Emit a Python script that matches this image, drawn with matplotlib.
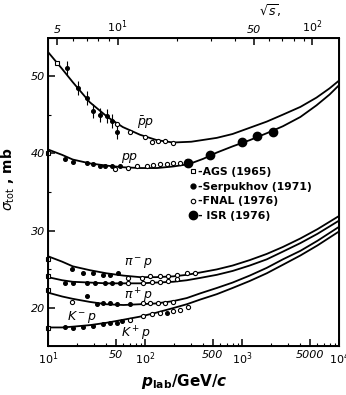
import numpy as np
import matplotlib.pyplot as plt
from matplotlib.lines import Line2D
from matplotlib.ticker import FixedLocator, FixedFormatter, NullFormatter

plt.rcParams['font.family'] = ['DejaVu Sans']
plt.rcParams['mathtext.fontset'] = 'dejavusans'

# fitted curves (p_lab in GeV/c, sigma in mb)
p_curve = [10, 14, 18, 27, 40, 60, 89, 130, 195, 270, 370, 550, 800, 1200, 1800, 2640, 4000, 6000, 10000]
pimp_s = [26.7, 26.0, 25.4, 24.9, 24.5, 24.2, 24.0, 24.0, 24.1, 24.3, 24.6, 25.0, 25.5, 26.2, 27.0, 27.9, 29.0, 30.2, 31.9]
pipp_s = [24.0, 23.6, 23.4, 23.3, 23.2, 23.2, 23.2, 23.3, 23.4, 23.6, 23.9, 24.3, 24.8, 25.5, 26.3, 27.3, 28.4, 29.6, 31.3]
kmp_s = [22.0, 21.5, 21.2, 20.8, 20.5, 20.4, 20.5, 20.6, 20.9, 21.3, 21.9, 22.6, 23.3, 24.2, 25.2, 26.3, 27.4, 28.7, 30.5]
kpp_s = [17.5, 17.5, 17.6, 17.8, 18.1, 18.5, 18.9, 19.4, 20.0, 20.5, 21.1, 21.8, 22.6, 23.5, 24.5, 25.6, 26.8, 28.1, 29.9]
pbarp_p = [10, 14, 18, 27, 41, 59, 89, 133, 195, 300, 550, 800, 1200, 1800, 2640, 4000, 5860, 8000, 10000]
pbarp_s = [53.1, 50.9, 49.2, 46.6, 44.7, 43.4, 42.4, 41.7, 41.4, 41.5, 42.0, 42.5, 43.3, 44.1, 45.0, 46.0, 47.2, 48.4, 49.4]
pp_p = [10, 14, 18, 27, 41, 60, 89, 133, 195, 250, 312, 400, 550, 800, 1200, 1800, 2640, 4000, 5860, 8000, 10000]
pp_s = [40.5, 39.8, 39.2, 38.7, 38.4, 38.2, 38.1, 38.1, 38.3, 38.5, 38.8, 39.3, 40.1, 40.9, 41.7, 42.6, 43.5, 44.7, 46.2, 47.6, 48.8]

# AGS (1965) - open squares
ags_p = [12.4, 10, 10, 10, 10, 10]
ags_s = [51.7, 40.0, 26.3, 24.2, 22.4, 17.4]

# Serpukhov (1971) - small filled circles
serp_pbar_p = [15.7, 20.4, 25.2, 29.1, 34.4, 40.6, 45.7, 51.4]
serp_pbar_s = [51.0, 48.5, 47.2, 45.5, 45.0, 44.8, 44.2, 42.8]
serp_pp_p = [15, 18, 25.2, 29, 34.4, 38.7, 45.7, 55]
serp_pp_s = [39.3, 38.9, 38.8, 38.6, 38.4, 38.4, 38.3, 38.4]
serp_pim_p = [17.7, 22.9, 29, 36.9, 43.5, 52.6]
serp_pim_s = [25.1, 24.6, 24.5, 24.3, 24.3, 24.5]
serp_pip_p = [15, 18, 25, 30.5, 38.7, 45.7, 55]
serp_pip_s = [23.3, 23.3, 23.2, 23.2, 23.2, 23.2, 23.3]
serp_km_p = [25, 31.9, 36.9, 43.5, 51.4, 70]
serp_km_s = [21.5, 20.5, 20.6, 20.6, 20.5, 20.5]
serp_kp_p = [15, 18, 23, 29, 36.9, 43.5, 51, 58, 169]
serp_kp_s = [17.5, 17.4, 17.6, 17.7, 17.9, 18.1, 18.1, 18.3, 19.4]

# FNAL (1976) - open circles
fnal_pbar_p = [51.4, 70, 100, 118, 136, 161, 194]
fnal_pbar_s = [43.8, 42.8, 42.1, 41.5, 41.6, 41.6, 41.4]
fnal_pp_p = [49, 67, 82.5, 104, 121, 143, 169, 194, 229, 270]
fnal_pp_s = [38.0, 38.1, 38.3, 38.4, 38.5, 38.6, 38.6, 38.8, 38.8, 39.0]
fnal_pim_p = [67, 93, 113, 143, 173, 213, 270, 327]
fnal_pim_s = [23.9, 23.9, 24.1, 24.1, 24.2, 24.3, 24.6, 24.6]
fnal_pip_p = [67, 95, 118, 143, 173, 213]
fnal_pip_s = [23.2, 23.3, 23.4, 23.4, 23.5, 23.7]
fnal_km_p = [95, 113, 136, 161, 194, 17.7]
fnal_km_s = [20.7, 20.6, 20.7, 20.6, 20.8, 20.8]
fnal_kp_p = [70, 95, 118, 143, 194, 229, 280]
fnal_kp_s = [18.5, 19.0, 19.2, 19.4, 19.6, 19.8, 20.1]

# ISR (1976) - large filled circles
isr_p = [277, 468, 1000, 1430, 2090]
isr_s = [38.8, 39.8, 41.5, 42.3, 42.8]

fig = plt.figure(figsize=(3.46, 3.95), dpi=100)
ax = fig.add_axes([0.1387, 0.124, 0.841, 0.7797])
ax.set_xscale('log')
ax.set_xlim(10, 10000)
ax.set_ylim(15.1, 54.9)

lw = 1.3
ax.plot(pbarp_p, pbarp_s, 'k-', lw=lw)
ax.plot(pp_p, pp_s, 'k-', lw=lw)
for s in [pimp_s, pipp_s, kmp_s, kpp_s]:
    ax.plot(p_curve, s, 'k-', lw=lw)

ms_small = 2.6
ax.plot(ags_p, ags_s, 's', mfc='white', mec='k', ms=3.2, mew=0.8, clip_on=False)
for px, sy in [(serp_pbar_p, serp_pbar_s), (serp_pp_p, serp_pp_s), (serp_pim_p, serp_pim_s),
               (serp_pip_p, serp_pip_s), (serp_km_p, serp_km_s), (serp_kp_p, serp_kp_s)]:
    ax.plot(px, sy, 'o', color='k', ms=ms_small)
ax.errorbar(serp_pbar_p, serp_pbar_s, yerr=0.9, fmt='none', ecolor='k', elinewidth=0.8, capsize=0)
for px, sy in [(fnal_pbar_p, fnal_pbar_s), (fnal_pp_p, fnal_pp_s), (fnal_pim_p, fnal_pim_s),
               (fnal_pip_p, fnal_pip_s), (fnal_km_p, fnal_km_s), (fnal_kp_p, fnal_kp_s)]:
    ax.plot(px, sy, 'o', mfc='white', mec='k', ms=3.0, mew=0.8)
ax.plot(isr_p, isr_s, 'o', color='k', ms=6)

# curve labels
ax.text(0.335, 0.725, r'$\bar{p}p$', fontsize=9, ha='center', va='center', transform=ax.transAxes)
ax.text(0.28, 0.61, r'$pp$', fontsize=9, ha='center', va='center', transform=ax.transAxes)
ax.text(0.31, 0.27, r'$\pi^-p$', fontsize=9, ha='center', va='center', transform=ax.transAxes)
ax.text(0.31, 0.163, r'$\pi^+p$', fontsize=9, ha='center', va='center', transform=ax.transAxes)
ax.text(0.117, 0.095, r'$K^-p$', fontsize=9, ha='center', va='center', transform=ax.transAxes)
ax.text(0.30, 0.04, r'$K^+p$', fontsize=9, ha='center', va='center', transform=ax.transAxes)

# legend
handles = [Line2D([], [], ls='none', marker='s', mfc='white', mec='k', ms=3.2, mew=0.8),
           Line2D([], [], ls='none', marker='o', color='k', ms=3.5),
           Line2D([], [], ls='none', marker='o', mfc='white', mec='k', ms=3.2, mew=0.8),
           Line2D([], [], ls='none', marker='o', color='k', ms=6)]
labels = ['-AGS (1965)', '-Serpukhov (1971)', '-FNAL (1976)', '- ISR (1976)']
ax.legend(handles, labels, loc='upper left', bbox_to_anchor=(0.47, 0.6), frameon=False,
          handlelength=0.6, handletextpad=0.1, labelspacing=0.45, borderpad=0,
          prop={'weight': 'bold', 'size': 7.8})

# bottom axis ticks
ax.xaxis.set_major_locator(FixedLocator([10, 50, 100, 500, 1000, 5000, 10000]))
ax.xaxis.set_major_formatter(FixedFormatter([r'$\mathit{10}^{\mathit{1}}$', '50', r'$\mathit{10}^{\mathit{2}}$', '500',
                                             r'$\mathit{10}^{\mathit{3}}$', '5000', r'$\mathit{10}^{\mathit{4}}$']))
ax.xaxis.set_minor_locator(FixedLocator([20, 30, 40, 60, 70, 80, 90, 200, 300, 400, 600, 700, 800, 900,
                                         2000, 3000, 4000, 6000, 7000, 8000, 9000]))
ax.xaxis.set_minor_formatter(NullFormatter())
ax.set_yticks([20, 30, 40, 50])
ax.set_yticklabels(['20', '30', '40', '50'])
ax.set_yticks([25, 35, 45], minor=True)
ax.tick_params(which='major', direction='in', length=5, width=1.1, labelsize=8, pad=3)
ax.tick_params(which='minor', direction='in', length=2.5, width=0.8)
ax.tick_params(axis='y', which='both', right=False, pad=2)
for t in ax.get_xticklabels() + ax.get_yticklabels():
    t.set_fontstyle('italic')
for sp in ax.spines.values():
    sp.set_linewidth(1.4)

# top axis: sqrt(s)
m = 0.938
def p_of_sqrts(r):
    r = np.asarray(r, dtype=float)
    e = (r ** 2 - 2 * m ** 2) / (2 * m)
    return np.sqrt(e ** 2 - m ** 2)

top = ax.twiny()
top.set_xscale('log')
top.set_xlim(ax.get_xlim())
top.xaxis.set_major_locator(FixedLocator(p_of_sqrts([5, 10, 50, 100])))
top.xaxis.set_major_formatter(FixedFormatter(['5', r'$\mathit{10}^{\mathit{1}}$', '50', r'$\mathit{10}^{\mathit{2}}$']))
top.xaxis.set_minor_locator(FixedLocator(p_of_sqrts([6, 7, 8, 9, 20, 30, 40, 60, 70, 80, 90])))
top.xaxis.set_minor_formatter(NullFormatter())
top.tick_params(which='major', direction='in', length=5, width=1.1, labelsize=8, pad=2)
top.tick_params(which='minor', direction='in', length=2.5, width=0.8)
for t in top.get_xticklabels():
    t.set_fontstyle('italic')
top.text(0.765, 1.09, r'$\sqrt{s}$,', fontsize=9, ha='center', va='center', transform=ax.transAxes)

ax.set_xlabel(r'$\mathbfit{p}_{\mathbf{lab}}\mathbf{/GeV/}\mathbfit{c}$', fontsize=11)
ax.xaxis.set_label_coords(0.47, -0.085)
ax.set_ylabel(r'$\sigma_{\rm tot}$ , mb', fontsize=10, fontweight='bold')
ax.yaxis.set_label_coords(-0.105, 0.54)

plt.savefig('out.png', dpi=100)
